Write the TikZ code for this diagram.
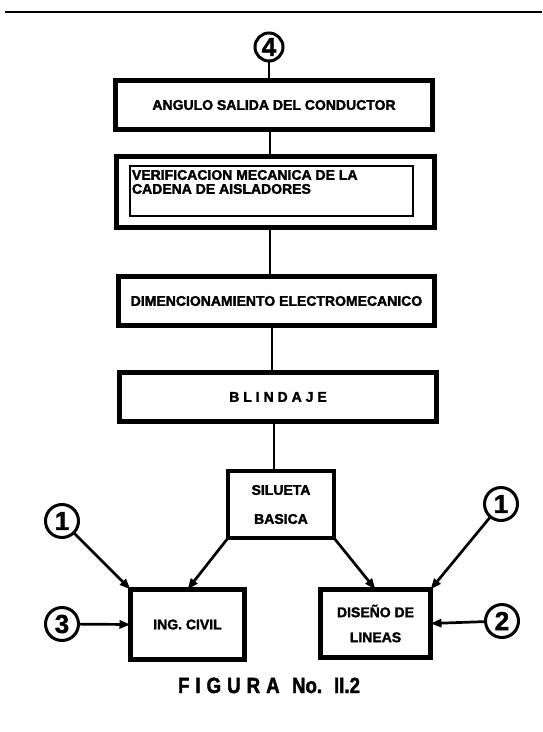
\documentclass[tikz,border=0pt]{standalone}
\usepackage{fontspec}
\setmainfont{Liberation Sans}
\newfontfamily\heavy[FakeBold=2]{Liberation Sans Bold}
\newfontfamily\digitfont[FakeBold=1.5]{Liberation Sans Bold}
\newfontfamily\capfont[FakeBold=2,FakeStretch=0.85]{Liberation Sans Bold}
\usetikzlibrary{arrows.meta}

\begin{document}
\begin{tikzpicture}[x=1pt,y=-1pt,
  every node/.style={inner sep=0pt, outer sep=0pt},
  txt/.style={font=\heavy\fontsize{14}{14}\selectfont, align=center},
  blk/.style={draw, rectangle, line width=5pt, txt},
  numc/.style={draw, circle, line width=3pt, font=\digitfont\fontsize{26}{26}\selectfont},
  link/.style={line width=2pt},
  feed/.style={line width=2.7pt, -{Triangle[length=11pt,width=8pt]}},
  captxt/.style={font=\capfont\fontsize{22}{22}\selectfont},
]
\useasboundingbox (0,0) rectangle (542,732);

% page rule
\draw[line width=1.5pt] (5,12) -- (542,12);

% main column
\node[numc, minimum size=28pt] (c4) at (269,47) {4};
\coordinate (spine) at (270,0);

\node[blk, minimum width=317pt, minimum height=49pt] (b1) at (274,105)
  {ANGULO SALIDA DEL CONDUCTOR};

\node[draw, line width=5pt, minimum width=318pt, minimum height=71pt] (b2) at (275.5,192) {};
\node[draw, line width=1.5pt, minimum width=283pt, minimum height=50pt] (b2in) at (271.5,191) {};
\node[font=\heavy\fontsize{14}{14}\selectfont, align=left, anchor=north west] (b2t) at (132,170)
  {VERIFICACION MECANICA DE LA\\CADENA DE AISLADORES};

\node[blk, minimum width=316pt, minimum height=49pt] (b3) at (276.5,301)
  {DIMENCIONAMIENTO ELECTROMECANICO};

\node[blk, minimum width=317pt, minimum height=49pt] (b4) at (278,397)
  {{\addfontfeatures{LetterSpace=28}BLINDAJE}};

\node[blk, line width=4pt, minimum width=106pt, minimum height=67pt,
      font=\heavy\fontsize{14}{29}\selectfont] (sil) at (281,504.5)
  {SILUETA\\BASICA};

\node[blk, minimum width=114pt, minimum height=70pt] (civil) at (187.5,624.5)
  {ING. CIVIL};
\node[blk, minimum width=110pt, minimum height=68pt,
      font=\heavy\fontsize{14}{25}\selectfont] (dis) at (375.5,623.5)
  {DISEÑO DE\\LINEAS};

% numbered inputs
\node[numc, minimum size=33pt] (c1l) at (62,521) {1};
\node[numc, minimum size=33pt] (c3) at (62,624) {3};
\node[numc, minimum size=33pt] (c1r) at (501,504) {1};
\node[numc, minimum size=33pt] (c2) at (502,621) {2};

% vertical links
\draw[link] (c4) -- (c4 |- b1.north);
\draw[link] (b1.south -| spine) -- (b2.north -| spine);
\draw[link] (b2.south -| spine) -- (b3.north -| spine);
\draw[link] ([xshift=2pt]b3.south -| spine) -- ([xshift=2pt]b4.north -| spine);
\draw[link] ([xshift=4pt]b4.south -| spine) -- ([xshift=4pt]sil.north -| spine);

% arrows into the lower blocks
\draw[feed] (sil.south west) -- (civil.north);
\draw[feed] (sil.south east) -- (dis.north);
\draw[feed] (c1l) -- (civil.north west);
\draw[feed] (c1r) -- (dis.north east);
\draw[feed] (c3) -- (civil.west);
\draw[feed] (c2) -- (dis.east);

% caption
\node[captxt, anchor=base west] (capa) at (178,693)
  {F\hspace{6pt}I\hspace{6pt}G\hspace{6pt}U\hspace{6pt}R\hspace{6pt}A};
\node[captxt, anchor=base west] (capb) at (292,693) {No.};
\node[captxt, anchor=base west] (capc) at (334,693) {II.2};
\end{tikzpicture}
\end{document}
